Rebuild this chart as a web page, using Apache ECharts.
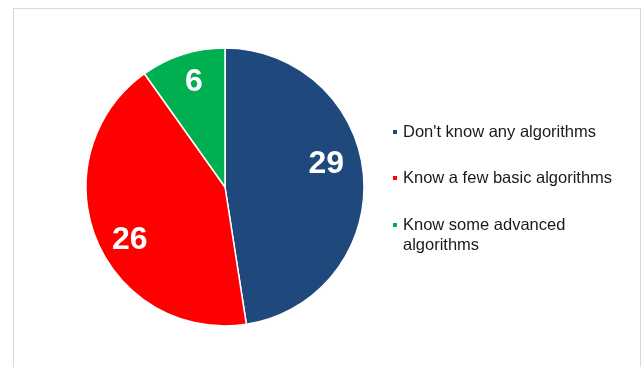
<!DOCTYPE html>
<html>
<head>
<meta charset="utf-8">
<script src="https://cdn.jsdelivr.net/npm/echarts@6/dist/echarts.min.js"></script>
<style>
  html, body { margin: 0; padding: 0; background: #fff; overflow: hidden; }
  #chart { position: absolute; left: 0; top: 0; width: 643px; height: 367px; }
  #frame { position: absolute; left: 13px; top: 8px; width: 628px; height: 380px;
           border: 1px solid #d9d9d9; box-sizing: border-box; pointer-events: none; }
</style>
</head>
<body>
<div id="chart"></div>
<div id="frame"></div>
<script>
// Survey responses: knowledge of algorithms
const categories = [
  "Don't know any algorithms",
  "Know a few basic algorithms",
  "Know some advanced algorithms"
];
const counts = [29, 26, 6];
const sliceColors = ['#1F497D', '#FF0000', '#00B050'];

// Nudges that move each value label from the mid-radius point outward
const labelShift = [[29, -17], [-28, 26], [-9, -36]];

const chart = echarts.init(document.getElementById('chart'), null, { renderer: 'canvas' });

const legendText = {
  fontFamily: 'Liberation Sans, Arial, sans-serif',
  fontSize: 16.5,
  color: '#1a1a1a',
  lineHeight: 20,
  width: 215,
  overflow: 'break'
};

chart.setOption({
  animation: false,
  color: sliceColors,
  legend: [
    {
      orient: 'vertical',
      left: 391,
      top: 122,
      padding: 0,
      itemWidth: 6,
      itemHeight: 6,
      itemGap: 26,
      icon: 'rect',
      selectedMode: false,
      data: categories.slice(0, 2),
      textStyle: legendText
    },
    {
      // wrapped entry: a leading blank line keeps the marker beside the first line
      orient: 'vertical',
      left: 391,
      top: 195,
      padding: 0,
      itemWidth: 6,
      itemHeight: 6,
      icon: 'rect',
      selectedMode: false,
      data: [categories[2]],
      formatter: name => '\n' + name,
      textStyle: legendText
    }
  ],
  series: [{
    type: 'pie',
    center: [225, 187],
    radius: [0, 139],
    startAngle: 90,
    clockwise: true,
    avoidLabelOverlap: false,
    silent: true,
    itemStyle: { borderColor: '#ffffff', borderWidth: 1.5 },
    label: {
      show: true,
      position: 'inside',
      formatter: '{c}',
      color: '#ffffff',
      fontFamily: 'Liberation Sans, Arial, sans-serif',
      fontWeight: 'bold',
      fontSize: 32
    },
    labelLine: { show: false },
    labelLayout: function (p) {
      const s = labelShift[p.dataIndex];
      return { dx: s[0], dy: s[1] };
    },
    data: categories.map((name, i) => ({ name: name, value: counts[i] }))
  }]
});
</script>
</body>
</html>
